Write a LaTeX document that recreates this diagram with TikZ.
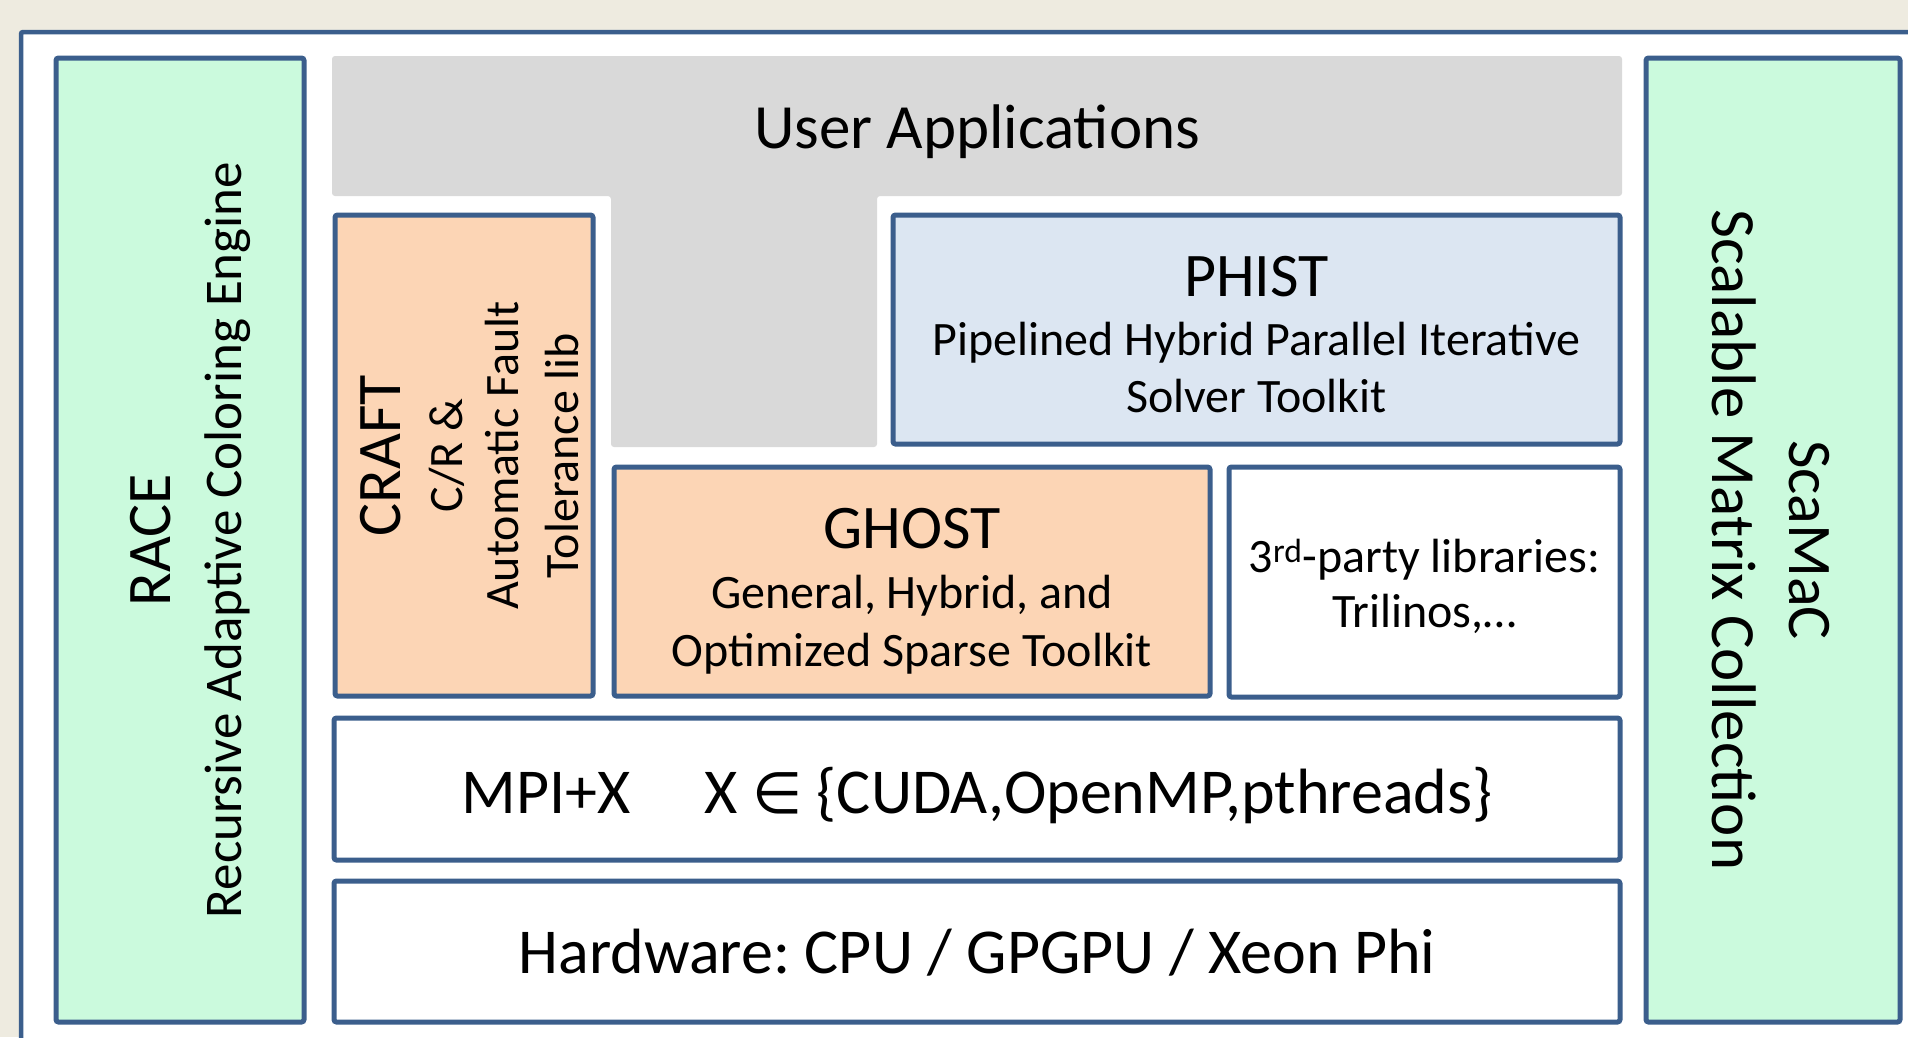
\documentclass[tikz,border=0pt]{standalone}
\usepackage{fontspec}
\setmainfont{Carlito}
\newfontfamily\symfont[Scale=0.9]{DejaVu Sans}
\definecolor{bgc}{HTML}{EEEBE0}
\definecolor{bordc}{HTML}{3B5E8C}
\definecolor{greenc}{HTML}{CBFADD}
\definecolor{grayc}{HTML}{D9D9D9}
\definecolor{peachc}{HTML}{FCD5B5}
\definecolor{bluec}{HTML}{DCE6F2}
\frenchspacing
\begin{document}
\begin{tikzpicture}[x=1pt,y=-1pt,
  box/.style={draw=bordc, line width=5pt, rounded corners=2.5pt, inner sep=0pt, outer sep=0pt},
  txt/.style={inner sep=0pt, anchor=base, text=black},
  title/.style={txt, font=\fontsize{62}{74}\selectfont},
  sub/.style={txt, font=\fontsize{48}{58}\selectfont},
  big/.style={txt, font=\fontsize{64}{76}\selectfont}]
\path[use as bounding box] (0,0) rectangle (1908,1037);
\fill[bgc] (0,0) rectangle (1908,1037);
\begin{scope}
\clip (0,0) rectangle (1908,1037);
\draw[fill=white, draw=bordc, line width=4.5pt, rounded corners=2pt] (21,32) rectangle (1960,1090);
\end{scope}
% gray user applications shape
\fill[grayc, rounded corners=3pt] (332,56) -- (1622,56) -- (1622,196) -- (877,196) -- (877,447) -- (611,447) -- (611,196) -- (332,196) -- cycle;
% boxes
\node[box, fill=greenc, minimum width=248, minimum height=964] (race) at (180,540) {};
\node[box, fill=greenc, minimum width=254, minimum height=964] (scamac) at (1773,540) {};
\node[box, fill=peachc, minimum width=258, minimum height=481] (craft) at (464,455.5) {};
\node[box, fill=bluec, minimum width=727, minimum height=229] (phist) at (1256.5,329.5) {};
\node[box, fill=peachc, minimum width=596, minimum height=229] (ghost) at (912,581.5) {};
\node[box, fill=white, minimum width=391, minimum height=230] (third) at (1424.5,582) {};
\node[box, fill=white, minimum width=1286, minimum height=142] (mpi) at (977,789) {};
\node[box, fill=white, minimum width=1286, minimum height=141] (hw) at (977,951.5) {};
% texts
\node[txt, font=\fontsize{63}{75}\selectfont] (userapp) at (977,148) {User Applications};
\node[title] (phistT) at (1256.5,296) {PHIST};
\node[sub] (phistA) at (1256.5,355) {Pipelined Hybrid Parallel Iterative};
\node[sub] (phistB) at (1256.5,412) {Solver Toolkit};
\node[title] (ghostT) at (912,548) {GHOST};
\node[sub] (ghostA) at (912,608) {General, Hybrid, and};
\node[sub] (ghostB) at (912,666) {Optimized Sparse Toolkit};
\node[sub] (thirdA) at (1424.5,572) {3\textsuperscript{rd}-party libraries:};
\node[sub] (thirdB) at (1424.5,627) {Trilinos,…};
\node[big] (mpiT) at (977,813) {MPI+X\hspace{74pt}X {\symfont ∈} \{CUDA,OpenMP,pthreads\}};
\node[big] (hwT) at (977,973) {Hardware: CPU / GPGPU / Xeon Phi};
\node[title, rotate=90] (raceT) at (170,540) {RACE};
\node[txt, rotate=90, font=\fontsize{53}{64}\selectfont] (raceS) at (241,540) {Recursive Adaptive Coloring Engine};
\node[title, rotate=90] (craftT) at (400,455.5) {CRAFT};
\node[sub, rotate=90] (craftA) at (462,455.5) {C/R \&};
\node[sub, rotate=90] (craftB) at (518,455.5) {Automatic Fault};
\node[sub, rotate=90] (craftC) at (578,455.5) {Tolerance lib};
\node[title, rotate=-90] (scamacT) at (1789,540) {ScaMaC};
\node[txt, rotate=-90, font=\fontsize{63}{75}\selectfont] (scamacS) at (1712,540) {Scalable Matrix Collection};
\end{tikzpicture}
\end{document}
